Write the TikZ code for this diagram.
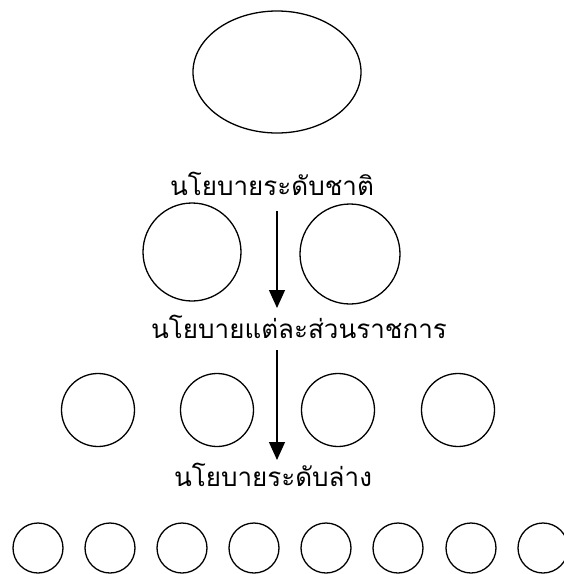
\documentclass[tikz,border=0pt]{standalone}
\usepackage{fontspec}
\usepackage{tikz}
\usetikzlibrary{arrows.meta,shapes.geometric}
\newfontfamily\thaifont[Script=Thai]{Loma}

\begin{document}
\begin{tikzpicture}[x=1pt,y=-1pt,
        unit/.style={draw,line width=1.3pt,circle,inner sep=0pt},
        levellabel/.style={font=\thaifont\fontsize{26}{30}\selectfont,inner sep=0pt,anchor=base},
        arr/.style={line width=1.3pt,-{Triangle[length=18pt,width=16pt]}}]
        \useasboundingbox (0,0) rectangle (564,574);
        % top level
        \node[draw,line width=1.3pt,ellipse,minimum width=168pt,minimum height=122pt,inner sep=0pt] (nat) at (277,72) {};
        \node[levellabel] (t1) at (272,195) {นโยบายระดับชาติ};
        % second level
        \node[unit,minimum size=98pt] (m1) at (192,252) {};
        \node[unit,minimum size=100pt] (m2) at (350,254) {};
        \coordinate (a1s) at (277,211);
        \coordinate (a1e) at (277,308);
        \draw[arr] (a1s) -- (a1e);
        \node[levellabel] (t2) at (299,338) {นโยบายแต่ละส่วนราชการ};
        % third level
        \foreach \x [count=\i] in {98,217,338,458}
            \node[unit,minimum size=73pt] (d\i) at (\x,410) {};
        \coordinate (a2s) at (277,350);
        \coordinate (a2e) at (277,460);
        \draw[arr] (a2s) -- (a2e);
        \node[levellabel] (t3) at (273,486) {นโยบายระดับล่าง};
        % bottom level
        \foreach \x [count=\i] in {38,110,182,254,326,398,471,543}
            \node[unit,minimum size=50pt] (b\i) at (\x,548) {};
\end{tikzpicture}
\end{document}
